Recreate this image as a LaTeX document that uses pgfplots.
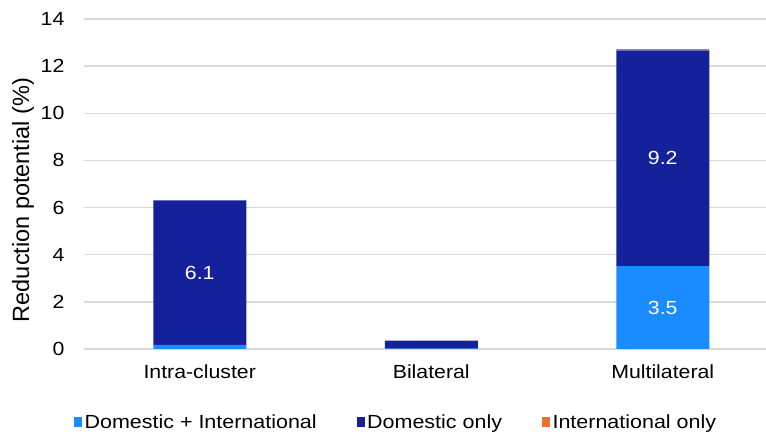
\documentclass[border=0pt]{standalone}
\usepackage{pgfplots}
\pgfplotsset{compat=1.18}
\usepackage{fontspec}
\setmainfont{Liberation Sans}
\definecolor{lb}{HTML}{1A8CFF}
\definecolor{db}{HTML}{14219A}
\definecolor{orng}{HTML}{E97132}
\definecolor{gr}{HTML}{D9D9D9}
\begin{document}
\begin{tikzpicture}
\useasboundingbox (0,0) rectangle (766pt,435pt);
\begin{axis}[
 at={(84pt,86pt)}, anchor=south west,
 scale only axis, width=682pt, height=330pt,
 ybar stacked, bar width=93pt,
 xmin=-0.5, xmax=2.446, ymin=0, ymax=14,
 xtick={0,1,2}, xticklabels={Intra-cluster,Bilateral,Multilateral},
 ytick={0,2,...,14},
 /pgf/number format/assume math mode=true,
 ymajorgrids, major grid style={gr, line width=1.5pt},
 axis line style={draw=none}, major tick length=0pt,
 tick label style={font=\fontsize{19}{22}\selectfont, xscale=1.12},
 yticklabel style={xshift=-14pt},
 xticklabel style={yshift=-12pt},
 ylabel={Reduction potential (\%)},
 every axis y label/.style={at={(axis description cs:-0.0894,0.4515)}, rotate=90, anchor=center, font=\fontsize{23.5}{27}\selectfont},
 legend columns=3,
 legend style={at={(axis description cs:0.458,-0.221)}, anchor=center, draw=none, fill=none, font=\fontsize{19}{22}\selectfont, nodes={xscale=1.13}, /tikz/every even column/.append style={column sep=38pt}},
 legend image code/.code={\fill[#1] (0pt,-5pt) rectangle (8pt,5pt);},
 nodes near coords style={font=\fontsize{19}{22}\selectfont, xscale=1.12, text=white, anchor=center},
]
\addplot[fill=lb, draw=none, nodes near coords, point meta=explicit symbolic]
  coordinates {(0,0.17)[] (1,0.02)[] (2,3.52)[3.5]};
\addlegendentry{Domestic + International}
\addplot[fill=db, draw=none, nodes near coords, point meta=explicit symbolic]
  coordinates {(0,6.14)[6.1] (1,0.34)[] (2,9.15)[9.2]};
\addlegendentry{Domestic only}
\addplot[fill=orng, draw=none] coordinates {(0,0) (1,0) (2,0.05)};
\addlegendentry{International only}
\end{axis}
\end{tikzpicture}
\end{document}
